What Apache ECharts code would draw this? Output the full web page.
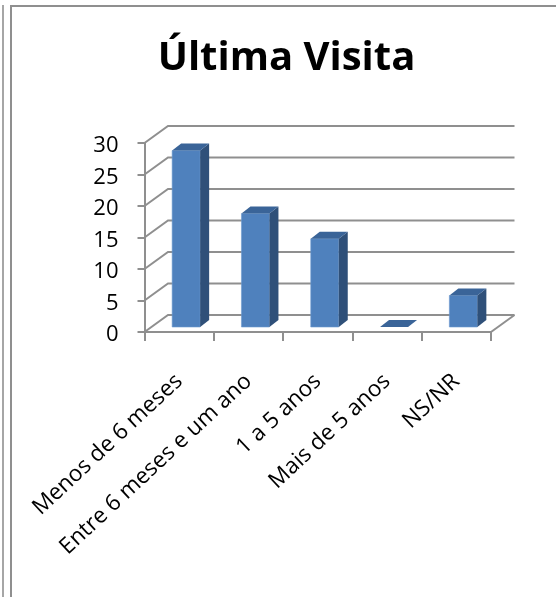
<!DOCTYPE html>
<html><head><meta charset="utf-8">
<style>html,body{margin:0;padding:0;background:#fff}#c{width:556px;height:597px}</style>
<script src="https://cdn.jsdelivr.net/npm/echarts@6/dist/echarts.min.js"></script>
</head><body><div id="c"></div>
<script>
const titleText = "Última Visita";
const categories = ["Menos de 6 meses","Entre 6 meses e um ano","1 a 5 anos","Mais de 5 anos","NS/NR"];
const visits = [28,18,14,0,5];
const yTicks = [0,5,10,15,20,25,30];
const lineGray = "#8f8f8f";
const lineW = 2;
const depthX = 23.5, depthY = 17;
const barW = 28, barDX = 9, barDY = 7, barShift = 7, barLift = 5;

const chart = echarts.init(document.getElementById('c'), null, {renderer:'canvas'});
function wall(params, api){
  const v = api.value(0);
  const p = api.coord([0, v]);
  const cs = params.coordSys;
  const x0 = cs.x, x1 = cs.x + cs.width, y = p[1];
  const children = [{
    type:'polyline', shape:{points:[[x0,y],[x0+depthX,y-depthY],[x1+depthX,y-depthY]]},
    style:{fill:null, stroke:lineGray, lineWidth:lineW}
  }];
  if (v === 0) children.push({
    type:'line', shape:{x1:x1,y1:y,x2:x1+depthX,y2:y-depthY},
    style:{stroke:lineGray, lineWidth:lineW}
  });
  return {type:'group', children};
}
function bar3d(params, api){
  const c = api.coord([api.value(0), api.value(1)]);
  const b = api.coord([api.value(0), 0]);
  const xl = c[0] + barShift - barW/2, xr = xl + barW;
  const yt = c[1] - barLift, yb = b[1] - barLift;
  const children = [];
  if (yb - yt > 0.5) {
    children.push({type:'rect', shape:{x:xl,y:yt,width:barW,height:yb-yt},
      style:{fill:'#4f81bd', stroke:'#6d9ad0', lineWidth:0.6}});
    children.push({type:'polygon', shape:{points:[[xr,yt],[xr+barDX,yt-barDY],[xr+barDX,yb-barDY],[xr,yb]]},
      style:{fill:'#2f5079'}});
  }
  children.push({type:'polygon', shape:{points:[[xl,yt],[xr,yt],[xr+barDX,yt-barDY],[xl+barDX,yt-barDY]]},
    style:{fill:'#3a6498'}});
  return {type:'group', children};
}
chart.setOption({
  animation:false,
  backgroundColor:'#fff',
  title:{text:titleText, left:281.5, top:34, textAlign:'center',
    textStyle:{fontFamily:'Open Sans', fontSize:40, fontWeight:'bold', color:'#000'}},
  grid:{left:144.5, top:143, width:346.5, height:189, containLabel:false},
  xAxis:{type:'category', data:categories, boundaryGap:true,
    axisLine:{show:true, lineStyle:{color:lineGray, width:lineW}},
    axisTick:{show:true, alignWithLabel:false, length:9, lineStyle:{color:lineGray, width:lineW}},
    splitLine:{show:false},
    axisLabel:{interval:0, rotate:43, margin:46, color:'#000', fontFamily:'Open Sans', fontSize:22.5}},
  yAxis:{type:'value', min:0, max:30, interval:5,
    axisLine:{show:true, lineStyle:{color:lineGray, width:lineW}},
    axisTick:{show:true, length:7, lineStyle:{color:lineGray, width:lineW}},
    splitLine:{show:false},
    axisLabel:{margin:26, formatter:'{a|{value}}', customValues:yTicks,
      rich:{a:{color:'#000', fontFamily:'Open Sans', fontSize:22, padding:[6,0,0,0]}}}},
  series:[
    {type:'custom', name:'wall', coordinateSystem:'cartesian2d', data:yTicks.map(v=>[v]),
      encode:{y:0}, renderItem:wall, clip:false, silent:true, z:1},
    {type:'custom', name:'Última Visita', coordinateSystem:'cartesian2d',
      data:visits.map((v,i)=>[i,v]), encode:{x:0,y:1}, renderItem:bar3d, clip:false, z:3}
  ],
  graphic:[
    {type:'line', shape:{x1:3,y1:5,x2:3,y2:597}, style:{stroke:'#a6a6a6', lineWidth:2}},
    {type:'line', shape:{x1:11,y1:6,x2:11,y2:597}, style:{stroke:'#8f8f8f', lineWidth:2}},
    {type:'line', shape:{x1:10,y1:6,x2:556,y2:6}, style:{stroke:'#8f8f8f', lineWidth:2}}
  ]
});
</script></body></html>
